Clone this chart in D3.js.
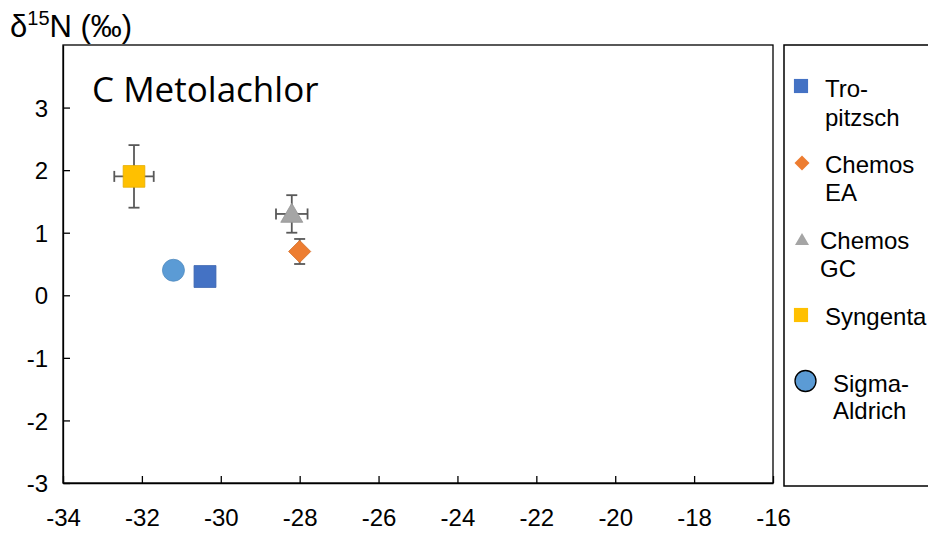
<!DOCTYPE html>
<html>
<head>
<meta charset="utf-8">
<script src="https://cdn.jsdelivr.net/npm/d3@7"></script>
<style>
  body { margin: 0; background: #fff; }
  svg { display: block; font-family: "Liberation Sans", Arial, sans-serif; }
</style>
</head>
<body>
<div id="chart"></div>
<script>
// values
const suppliers = ["Tropitzsch", "Chemos EA", "Chemos GC", "Syngenta", "Sigma-Aldrich"];
const d13C = [-30.4, -28.0, -28.2, -32.2, -31.2];
const d15N = [0.3, 0.7, 1.3, 1.9, 0.4];
const errX = [0, 0, 0.4, 0.5, 0];
const errY = [0, 0.2, 0.3, 0.5, 0];
const xTicks = [-34, -32, -30, -28, -26, -24, -22, -20, -18, -16];
const yTicks = [-3, -2, -1, 0, 1, 2, 3];
const legendLines = [["Tro-", "pitzsch"], ["Chemos", "EA"], ["Chemos", "GC"], ["Syngenta"], ["Sigma-", "Aldrich"]];

const width = 928, height = 533;
const margin = {top: 45, right: 155, bottom: 50, left: 63};

const colors = ["#4472C4", "#ED7D31", "#A5A5A5", "#FFC000", "#5B9BD5"];
const shapes = [d3.symbolSquare, d3.symbolSquare, d3.symbolTriangle, d3.symbolSquare, d3.symbolCircle];
const rotate = [0, 45, 0, 0, 0];
const sizes = [480, 245, 210, 470, 380];

const data = suppliers.map((s, i) => ({
  name: s, x: d13C[i], y: d15N[i], ex: errX[i], ey: errY[i], i: i
}));

const x = d3.scaleLinear().domain([-34, -16]).range([margin.left, width - margin.right]);
const y = d3.scaleLinear().domain([-3, 4]).range([height - margin.bottom, margin.top]);

const svg = d3.select("#chart").append("svg")
  .attr("width", width).attr("height", height);

// plot frame
svg.append("rect")
  .attr("x", x(-34)).attr("y", y(4))
  .attr("width", x(-16) - x(-34)).attr("height", y(-3) - y(4))
  .attr("fill", "none").attr("stroke", "#000").attr("stroke-width", 1.3);

const fmt = d => String(d);
const xAxis = svg.append("g")
  .attr("transform", `translate(0,${y(-3)})`)
  .call(d3.axisBottom(x).tickValues(xTicks).tickFormat(fmt).tickSizeInner(-7).tickSizeOuter(0).tickPadding(26));
const yAxis = svg.append("g")
  .attr("transform", `translate(${x(-34)},0)`)
  .call(d3.axisLeft(y).tickValues(yTicks).tickFormat(fmt).tickSizeInner(-7).tickSizeOuter(0).tickPadding(15));
[xAxis, yAxis].forEach(a => {
  a.attr("font-size", null).attr("font-family", null);
  a.select(".domain").attr("stroke", "#000").attr("stroke-width", 1.3);
  a.selectAll(".tick line").attr("stroke", "#000").attr("stroke-width", 1.3);
  a.selectAll(".tick text").style("font-size", "24px").attr("fill", "#000");
});
yAxis.selectAll(".tick text").attr("dy", "0.36em");

// axis title
svg.append("text")
  .attr("x", 10).attr("y", 37)
  .style("font-size", "31px").attr("fill", "#000")
  .call(t => {
    t.append("tspan").text("δ");
    t.append("tspan").style("font-size", "20px").attr("dy", -12).text("15");
    t.append("tspan").attr("dy", 12).text("N (‰)");
  });

// panel title
svg.append("text")
  .attr("x", 92).attr("y", 102)
  .attr("font-family", "Open Sans, Noto Sans, sans-serif")
  .style("font-size", "35px").attr("fill", "#000")
  .text("C Metolachlor");

// error bars
const eb = svg.append("g").attr("stroke", "#595959").attr("stroke-width", 1.8);
data.filter(d => d.ey > 0).forEach(d => {
  eb.append("line").attr("x1", x(d.x)).attr("x2", x(d.x)).attr("y1", y(d.y - d.ey)).attr("y2", y(d.y + d.ey));
  [d.y - d.ey, d.y + d.ey].forEach(v =>
    eb.append("line").attr("x1", x(d.x) - 5.5).attr("x2", x(d.x) + 5.5).attr("y1", y(v)).attr("y2", y(v)));
});
data.filter(d => d.ex > 0).forEach(d => {
  eb.append("line").attr("x1", x(d.x - d.ex)).attr("x2", x(d.x + d.ex)).attr("y1", y(d.y)).attr("y2", y(d.y));
  [d.x - d.ex, d.x + d.ex].forEach(v =>
    eb.append("line").attr("x1", x(v)).attr("x2", x(v)).attr("y1", y(d.y) - 5.5).attr("y2", y(d.y) + 5.5));
});

// points
svg.append("g").selectAll("path")
  .data(data).enter()
  .append("path")
    .attr("transform", d => `translate(${x(d.x)},${y(d.y) + (d.i === 2 ? 2 : 0)}) rotate(${rotate[d.i]})`)
    .attr("d", d => d3.symbol().type(shapes[d.i]).size(sizes[d.i])())
    .attr("fill", d => colors[d.i])
    .attr("stroke", d => d3.color(colors[d.i]).darker(0.3))
    .attr("stroke-width", 0.8);

// legend
const legend = svg.append("g");
legend.append("rect")
  .attr("x", 784).attr("y", 45).attr("width", 160).attr("height", 441)
  .attr("fill", "#fff").attr("stroke", "#000").attr("stroke-width", 1.5);

const markerY = [86, 163, 241, 315, 381];
const markerX = [801, 802, 802, 801, 805.5];
const legendSizes = [200, 113, 85, 200, 346];
const textX = [825, 825, 820, 825, 833];
const textY = [97, 173, 249, 325, 392];
const lineGap = [29, 28, 28, 0, 27];
legendLines.forEach((lines, i) => {
  legend.append("path")
    .attr("transform", `translate(${markerX[i]},${markerY[i]}) rotate(${rotate[i]})`)
    .attr("d", d3.symbol().type(shapes[i]).size(legendSizes[i])())
    .attr("fill", colors[i])
    .attr("stroke", i === 4 ? "#000" : "none")
    .attr("stroke-width", 1.3);
  const t = legend.append("text")
    .attr("x", textX[i]).attr("y", textY[i])
    .style("font-size", "24px").attr("fill", "#000");
  lines.forEach((l, j) => {
    t.append("tspan").attr("x", textX[i]).attr("dy", j === 0 ? 0 : lineGap[i]).text(l);
  });
});
</script>
</body>
</html>
